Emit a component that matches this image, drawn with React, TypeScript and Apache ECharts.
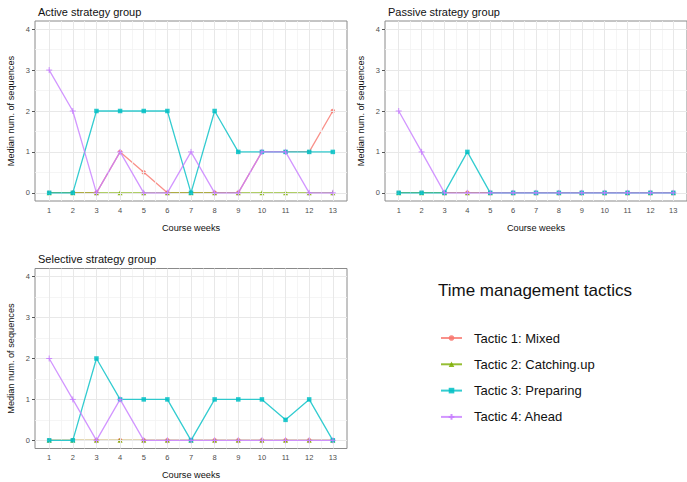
import React, { useEffect, useRef } from "react";
import * as echarts from "echarts";

const weeks = [1, 2, 3, 4, 5, 6, 7, 8, 9, 10, 11, 12, 13];
const xMinor = [1.5, 2.5, 3.5, 4.5, 5.5, 6.5, 7.5, 8.5, 9.5, 10.5, 11.5, 12.5];
const yTicks = [0, 1, 2, 3, 4];
const yMinor = [0.5, 1.5, 2.5, 3.5];

const tactics = [
  "Tactic 1: Mixed",
  "Tactic 2: Catching.up",
  "Tactic 3: Preparing",
  "Tactic 4: Ahead",
];

const activeMixed = [0, 0, 0, 1, 0.5, 0, 0, 0, 0, 1, 1, 1, 2];
const activeCatching = [0, 0, 0, 0, 0, 0, 0, 0, 0, 0, 0, 0, 0];
const activePreparing = [0, 0, 2, 2, 2, 2, 0, 2, 1, 1, 1, 1, 1];
const activeAhead = [3, 2, 0, 1, 0, 0, 1, 0, 0, 1, 1, 0, 0];

const passiveMixed = [0, 0, 0, 0, 0, 0, 0, 0, 0, 0, 0, 0, 0];
const passiveCatching = [0, 0, 0, 0, 0, 0, 0, 0, 0, 0, 0, 0, 0];
const passivePreparing = [0, 0, 0, 1, 0, 0, 0, 0, 0, 0, 0, 0, 0];
const passiveAhead = [2, 1, 0, 0, 0, 0, 0, 0, 0, 0, 0, 0, 0];

const selectiveMixed = [0, 0, 0, 0, 0, 0, 0, 0, 0, 0, 0, 0, 0];
const selectiveCatching = [0, 0, 0, 0, 0, 0, 0, 0, 0, 0, 0, 0, 0];
const selectivePreparing = [0, 0, 2, 1, 1, 1, 0, 1, 1, 1, 0.5, 1, 0];
const selectiveAhead = [2, 1, 0, 1, 0, 0, 0, 0, 0, 0, 0, 0, 0];

const colors = ["#F8766D", "#7CAE00", "#00BFC4", "#C77CFF"];
const symbols = ["circle", "triangle", "rect", "path://M0,5L10,5M5,0L5,10"];
const symbolSizes = [4.5, 5, 4.5, 6];

const FONT = "'Liberation Sans', Arial, Helvetica, sans-serif";

const panels = [
  {
    title: "Active strategy group",
    titlePos: { left: 38, top: 6 },
    grid: { left: 35, top: 21, width: 312, height: 180 },
    values: [activeMixed, activeCatching, activePreparing, activeAhead],
  },
  {
    title: "Passive strategy group",
    titlePos: { left: 388, top: 6 },
    grid: { left: 385, top: 21, width: 311, height: 180 },
    values: [passiveMixed, passiveCatching, passivePreparing, passiveAhead],
  },
  {
    title: "Selective strategy group",
    titlePos: { left: 38, top: 253 },
    grid: { left: 35, top: 268.5, width: 312, height: 180 },
    values: [selectiveMixed, selectiveCatching, selectivePreparing, selectiveAhead],
  },
];

export default function App() {
  const ref = useRef<HTMLDivElement>(null);
  useEffect(() => {
    if (!ref.current) return;
    const chart = echarts.init(ref.current, undefined, { renderer: "svg" });

    const grids: any[] = [];
    const xAxes: any[] = [];
    const yAxes: any[] = [];
    const series: any[] = [];
    const titles: any[] = [];

    panels.forEach((p, gi) => {
      grids.push({
        ...p.grid,
        show: true,
        borderColor: "#8a8a8a",
        borderWidth: 1,
        backgroundColor: "#fff",
        containLabel: false,
      });
      titles.push({
        text: p.title,
        ...p.titlePos,
        padding: 0,
        textStyle: { fontFamily: FONT, fontSize: 11, fontWeight: "normal", color: "#111" },
      });
      xAxes.push({
        type: "value",
        gridIndex: gi,
        min: 0.4,
        max: 13.6,
        name: "Course weeks",
        nameLocation: "middle",
        nameGap: 22,
        nameTextStyle: { fontFamily: FONT, fontSize: 9.2, color: "#111" },
        axisLine: { show: false },
        axisTick: { show: true, customValues: weeks, length: 3, lineStyle: { color: "#555" } },
        axisLabel: { customValues: weeks, fontFamily: FONT, fontSize: 7.5, color: "#4d4d4d", margin: 5 },
        splitLine: { show: false },
      });
      yAxes.push({
        type: "value",
        gridIndex: gi,
        min: -0.2,
        max: 4.2,
        name: "Median num. of sequences",
        nameLocation: "middle",
        nameGap: 20,
        nameTextStyle: { fontFamily: FONT, fontSize: 9.2, color: "#111" },
        axisLine: { show: false },
        axisTick: { show: true, customValues: yTicks, length: 3, lineStyle: { color: "#555" } },
        axisLabel: { customValues: yTicks, fontFamily: FONT, fontSize: 7.5, color: "#4d4d4d", margin: 5 },
        splitLine: { show: false },
      });
      const major = { color: "#e8e8e8", width: 1, type: "solid" };
      const minor = { color: "#f3f3f3", width: 0.8, type: "solid" };
      series.push({
        type: "line",
        name: "grid" + gi,
        xAxisIndex: gi,
        yAxisIndex: gi,
        data: [],
        z: 1,
        silent: true,
        markLine: {
          silent: true,
          symbol: ["none", "none"],
          label: { show: false },
          animation: false,
          data: [
            ...xMinor.map((v) => ({ xAxis: v, lineStyle: minor })),
            ...yMinor.map((v) => ({ yAxis: v, lineStyle: minor })),
            ...weeks.map((v) => ({ xAxis: v, lineStyle: major })),
            ...yTicks.map((v) => ({ yAxis: v, lineStyle: major })),
          ],
        },
      });
      p.values.forEach((vals, ti) => {
        series.push({
          type: "line",
          name: tactics[ti],
          xAxisIndex: gi,
          yAxisIndex: gi,
          z: 3 + ti,
          data: weeks.map((w, i) => [w, vals[i]]),
          symbol: symbols[ti],
          symbolSize: symbolSizes[ti],
          showAllSymbol: true,
          lineStyle: { color: colors[ti], width: 1.3, opacity: 0.8 },
          itemStyle: {
            color: colors[ti],
            borderColor: colors[ti],
            borderWidth: ti === 3 ? 1 : 0,
            opacity: 0.85,
          },
          emphasis: { disabled: true },
        });
      });
    });

    titles.push({
      text: "Time management tactics",
      left: 438,
      top: 282,
      padding: 0,
      textStyle: { fontFamily: FONT, fontSize: 17, fontWeight: "normal", color: "#111" },
    });

    chart.setOption({
      animation: false,
      backgroundColor: "#fff",
      title: titles,
      grid: grids,
      xAxis: xAxes,
      yAxis: yAxes,
      legend: {
        data: tactics,
        orient: "vertical",
        left: 440,
        top: 331.5,
        padding: 0,
        itemWidth: 21,
        itemHeight: 7,
        itemGap: 13.3,
        selectedMode: false,
        textStyle: { fontFamily: FONT, fontSize: 13, color: "#111", padding: [0, 0, 0, 7] },
      },
      series,
    });
    return () => chart.dispose();
  }, []);
  return (
    <div
      ref={ref}
      style={{ position: "fixed", left: 0, top: 0, width: 687, height: 482, background: "#fff" }}
    />
  );
}
